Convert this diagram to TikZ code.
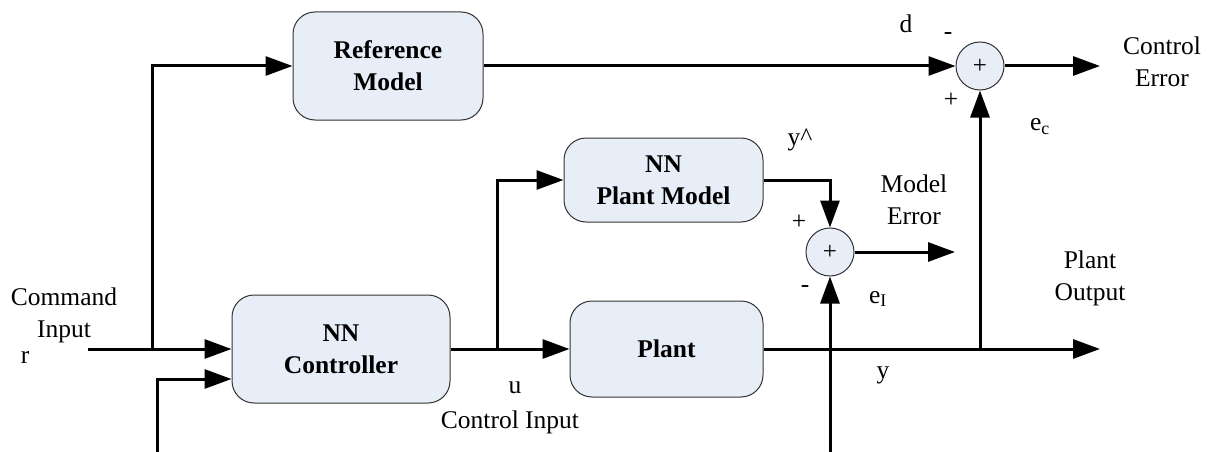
\documentclass[tikz,border=0pt]{standalone}
\usepackage{fontspec}
\setmainfont{Liberation Serif}
\usetikzlibrary{arrows.meta}
\definecolor{boxfill}{HTML}{E8EEF7}
\definecolor{boxline}{HTML}{333333}
\tikzset{
  arr/.style={line width=3pt, -{Triangle[length=27pt,width=19pt]}},
  blk/.style={draw=boxline, line width=1pt, fill=boxfill, rounded corners=22pt,
    font=\fontsize{25.5}{32}\selectfont\bfseries, align=center, inner sep=0pt},
  sumnode/.style={circle, draw=boxline, line width=1pt, fill=boxfill,
    minimum size=48pt, inner sep=0pt, font=\fontsize{25}{32}\selectfont},
  lbl/.style={font=\fontsize{25.5}{32}\selectfont, inner sep=0pt, align=center}
}
\begin{document}
\begin{tikzpicture}[x=1pt,y=-1pt]
\useasboundingbox (0,0) rectangle (1211,452);
% blocks
\node[blk, minimum width=190pt, minimum height=108pt] (ref) at (388,66) {Reference\\Model};
\node[blk, minimum width=199pt, minimum height=84pt] (pm) at (663.5,180) {NN\\Plant Model};
\node[blk, minimum width=218pt, minimum height=108pt] (ctrl) at (341,349) {NN\\Controller};
\node[blk, minimum width=193pt, minimum height=96pt] (plant) at (666.5,349) {Plant};
\node[sumnode] (s1) at (980,66) {+};
\node[sumnode] (s2) at (830,252) {+};
% free ends
\coordinate (rin) at (88,349);
\coordinate (br1) at (152,349);
\coordinate (fb) at (157,452);
\coordinate (br2) at (497,349);
\coordinate (me) at (955,252);
\coordinate (fb2) at (830,452);
\coordinate (pout) at (1100,349);
\coordinate (br3) at (980,349);
\coordinate (ce) at (1100,66);
% connectors
\draw[arr] (rin) -- (ctrl.west);
\draw[arr] (br1) |- (ref.west);
\draw[arr] (fb) |- ([yshift=-30pt]ctrl.west);
\draw[arr] (ctrl.east) -- (plant.west);
\draw[arr] (br2) |- (pm.west);
\draw[arr] (pm.east) -| (s2.north);
\draw[arr] (s2.east) -- (me);
\draw[arr] (fb2) -- (s2.south);
\draw[arr] (plant.east) -- (pout);
\draw[arr] (br3) -- (s1.south);
\draw[arr] (ref.east) -- (s1.west);
\draw[arr] (s1.east) -- (ce);
% labels
\node[lbl] (lcmd) at (64,315) {Command\\Input};
\node[lbl, anchor=base] (lr) at (25,363) {r};
\node[lbl, anchor=base] (ld) at (906,33) {d};
\node[lbl] (lm1) at (948,36) {-};
\node[lbl] (lp1) at (951,100) {+};
\node[lbl, anchor=base] (lec) at (1040,131) {e\textsubscript{c}};
\node[lbl] (lce) at (1162,62) {Control\\Error};
\node[lbl] (lyh) at (800,140) {y\^{}};
\node[lbl] (lp2) at (799,222) {+};
\node[lbl] (lme) at (914,200) {Model\\Error};
\node[lbl] (lm2) at (805,289) {-};
\node[lbl, anchor=base] (lei) at (878,303) {e\textsubscript{I}};
\node[lbl] (lpo) at (1090,278) {Plant\\Output};
\node[lbl, anchor=base] (ly) at (883,378) {y};
\node[lbl, anchor=base] (lu) at (515,393) {u};
\node[lbl, anchor=base] (lci) at (510,428) {Control Input};
\end{tikzpicture}
\end{document}
